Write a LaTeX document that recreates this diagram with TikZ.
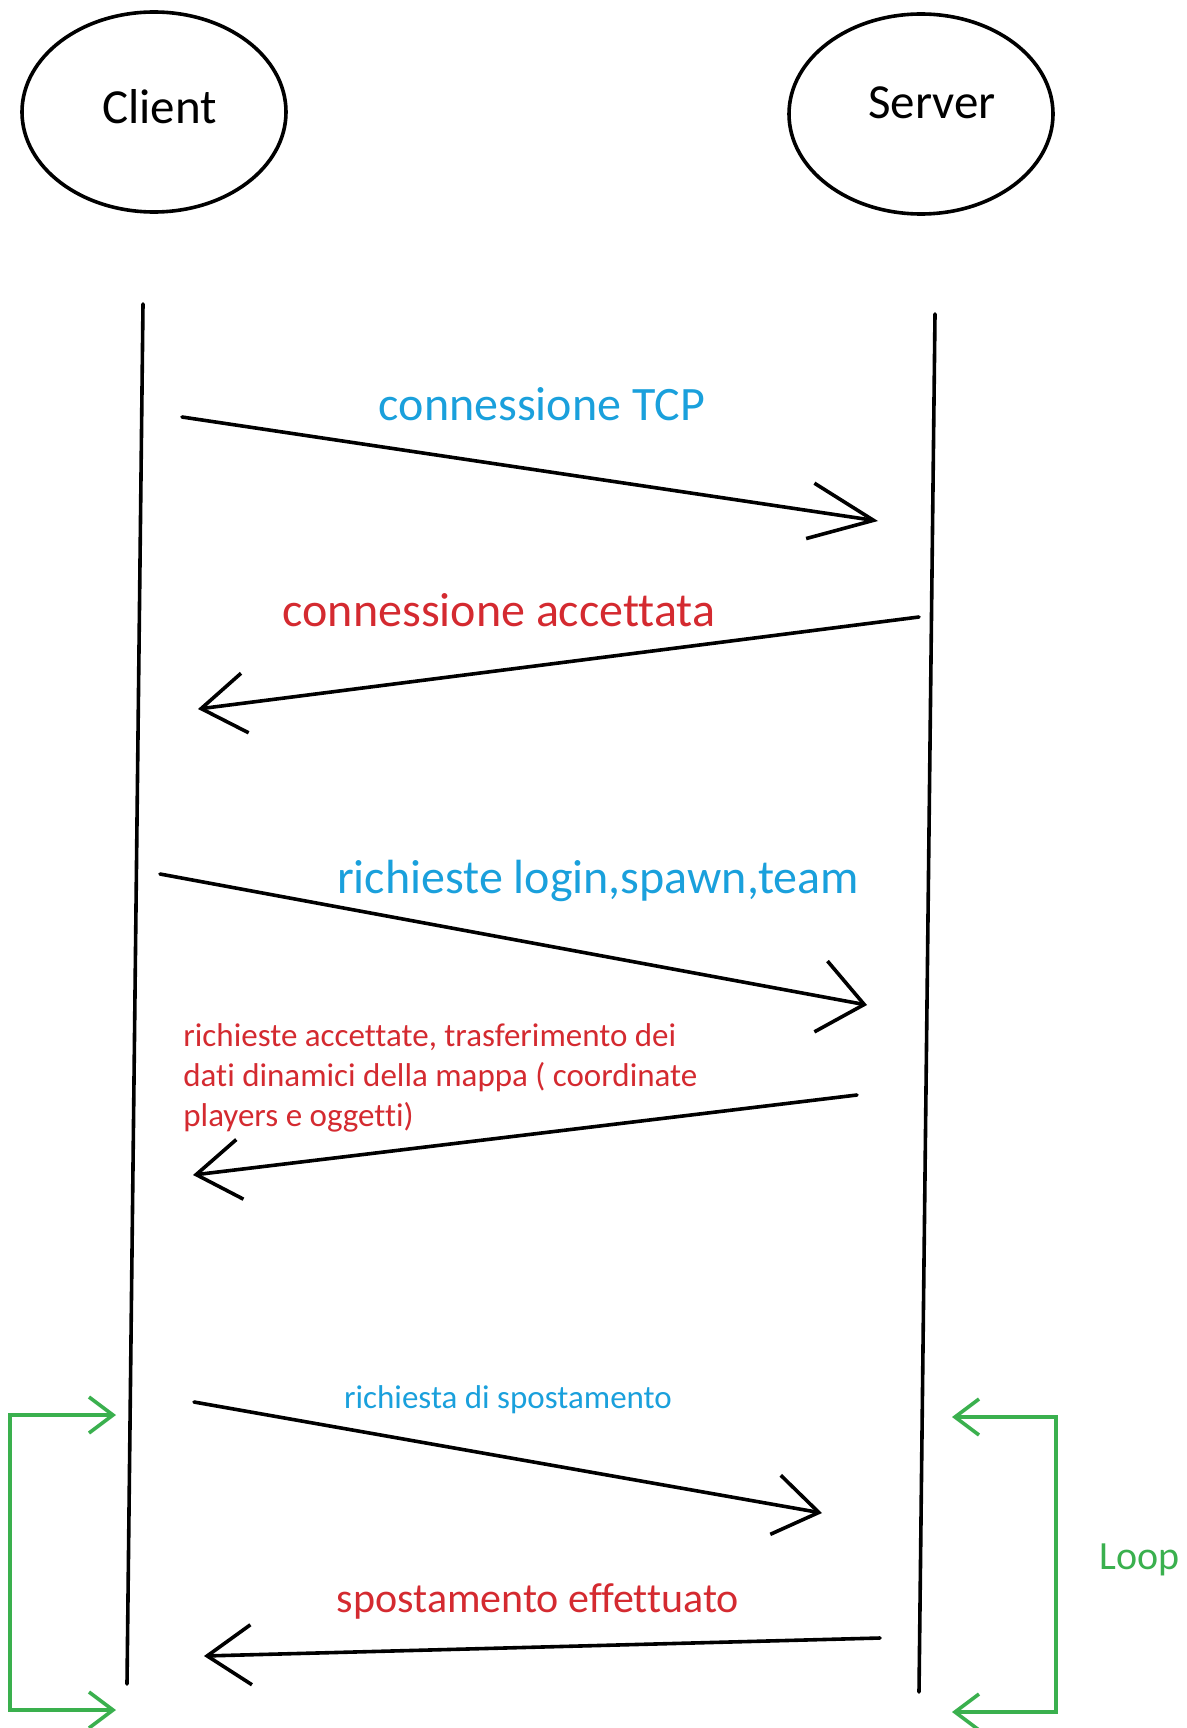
\documentclass[tikz,border=0pt]{standalone}
\usepackage{fontspec}
\setmainfont[Ligatures=NoCommon]{Carlito}
\usetikzlibrary{arrows.meta,shapes.geometric}
\definecolor{msgblue}{HTML}{1AA0DC}
\definecolor{msgred}{HTML}{D42A30}
\definecolor{loopgreen}{HTML}{3AB04E}

\begin{document}
\begin{tikzpicture}[x=0.5pt, y=-0.5pt,
    actor/.style={ellipse, draw, line width=1.8pt, minimum width=132pt, minimum height=100pt,
                  inner sep=0pt},
    actorname/.style={font=\fontsize{24.5}{28}\selectfont, inner sep=0pt},
    life/.style={line width=1.8pt, line cap=round},
    msg/.style={line width=1.8pt, line cap=round,
                -{Straight Barb[length=22pt, width=30pt, line width=1.8pt]}},
    looparr/.style={loopgreen, line width=1.8pt,
                {Straight Barb[length=12pt, width=18pt, line width=1.8pt]}-{Straight Barb[length=12pt, width=18pt, line width=1.8pt]}},
    biglbl/.style={anchor=base, inner sep=0pt, font=\fontsize{24}{28}\selectfont},
    smalllbl/.style={anchor=base, inner sep=0pt, font=\fontsize{16.5}{20}\selectfont}
  ]
  \useasboundingbox (0,0) rectangle (1187,1728);

  % partecipanti
  \node[actor, label={[actorname, xshift=2.75pt, yshift=2.75pt]center:Client}] (client) at (154,112) {};
  \node[actor, label={[actorname, xshift=5.5pt, yshift=5.5pt]center:Server}] (server) at (921,114) {};

  % linee di vita
  \coordinate (cl-top) at (143,304);
  \coordinate (cl-bot) at (127,1684);
  \coordinate (sv-top) at (935,314);
  \coordinate (sv-bot) at (919,1692);
  \draw[life] (cl-top) -- (cl-bot);
  \draw[life] (sv-top) -- (sv-bot);

  % estremi dei messaggi
  \coordinate (tcp-s) at (182,417);   \coordinate (tcp-e) at (878,521);
  \coordinate (acc-s) at (919,617);   \coordinate (acc-e) at (198,709);
  \coordinate (req-s) at (160,874);   \coordinate (req-e) at (867,1005);
  \coordinate (dat-s) at (857,1095);  \coordinate (dat-e) at (193,1175);
  \coordinate (mov-s) at (194,1402);  \coordinate (mov-e) at (822,1513);
  \coordinate (done-s) at (880,1638); \coordinate (done-e) at (204,1656);

  \draw[msg, -{Straight Barb[length=32pt, width=28pt, line width=1.8pt]}] (tcp-s) -- (tcp-e);
  \draw[msg] (acc-s) -- (acc-e);
  \draw[msg, -{Straight Barb[length=22pt, width=36pt, line width=1.8pt]}] (req-s) -- (req-e);
  \draw[msg] (dat-s) -- (dat-e);
  \draw[msg] (mov-s) -- (mov-e);
  \draw[msg] (done-s) -- (done-e);

  % etichette
  \node[biglbl, text=msgblue] (tcp-lbl) at (542,420) {connessione TCP};
  \node[biglbl, text=msgred] (acc-lbl) at (499,626) {connessione accettata};
  \node[biglbl, text=msgblue] (req-lbl) at (598,893) {richieste login,spawn,team};
  \node[anchor=north west, inner sep=0pt, align=left, text=msgred,
        font=\fontsize{16.5}{20}\selectfont] (dat-lbl) at (183,1023)
        {richieste accettate, trasferimento dei\\dati dinamici della mappa ( coordinate\\players e oggetti)};
  \node[smalllbl, text=msgblue] (mov-lbl) at (508,1408) {richiesta di spostamento};
  \node[biglbl, text=msgred, font=\fontsize{21}{25}\selectfont] (done-lbl) at (538,1612) {spostamento effettuato};

  % ciclo
  \coordinate (lp-l1) at (116,1415); \coordinate (lp-l2) at (10,1415);
  \coordinate (lp-l3) at (10,1710);  \coordinate (lp-l4) at (116,1710);
  \coordinate (lp-r1) at (952,1417); \coordinate (lp-r2) at (1056,1417);
  \coordinate (lp-r3) at (1056,1712); \coordinate (lp-r4) at (952,1712);
  \draw[looparr] (lp-l1) -- (lp-l2) -- (lp-l3) -- (lp-l4);
  \draw[looparr] (lp-r1) -- (lp-r2) -- (lp-r3) -- (lp-r4);
  \node[anchor=base west, inner sep=0pt, text=loopgreen, font=\fontsize{20}{24}\selectfont] (loop-lbl) at (1099,1569) {Loop};
\end{tikzpicture}
\end{document}
